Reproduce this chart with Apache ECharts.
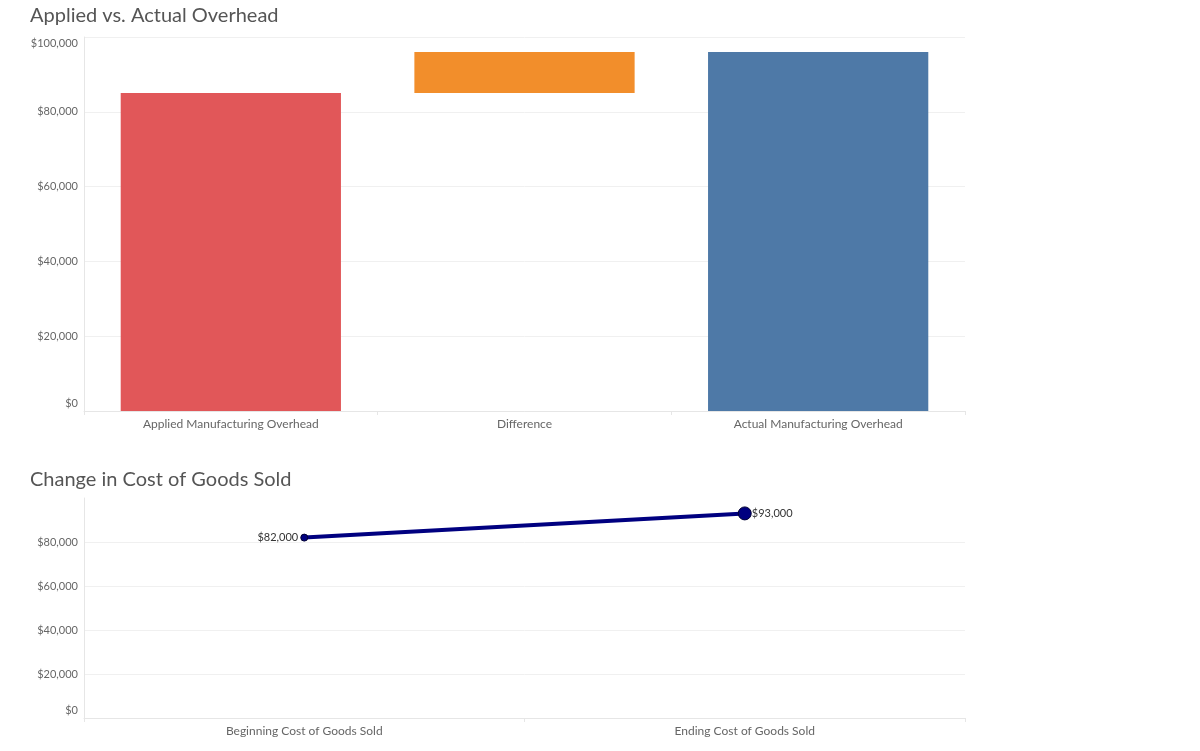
<!DOCTYPE html>
<html>
<head>
<meta charset="utf-8">
<script src="https://cdn.jsdelivr.net/npm/echarts@6/dist/echarts.min.js"></script>
<style>
html,body{margin:0;padding:0;background:#fff;}
#main{width:1200px;height:751px;}
</style>
</head>
<body>
<div id="main"></div>
<script>
// ---- data ----
const overheadCategories = ['Applied Manufacturing Overhead', 'Difference', 'Actual Manufacturing Overhead'];
const overheadBase = [0, 85000, 0];          // invisible waterfall offset
const overheadValues = [85000, 11000, 96000];
const overheadColors = ['#e15759', '#f28e2b', '#4e79a7'];
const overheadTicks = [0, 20000, 40000, 60000, 80000, 100000];

const cogsCategories = ['Beginning Cost of Goods Sold', 'Ending Cost of Goods Sold'];
const cogsValues = [82000, 93000];
const cogsTicks = [0, 20000, 40000, 60000, 80000];

const FONT = 'Lato, "Open Sans", sans-serif';
const money = v => '$' + Number(v).toLocaleString('en-US');

const chart = echarts.init(document.getElementById('main'), null, {renderer: 'canvas'});

const axisLineCol = '#e6e6e6';

function yFormatter(maxShown) {
  return v => {
    if (v === 0) return '{lo|' + money(v) + '}';
    if (v === maxShown) return '{hi|' + money(v) + '}';
    return money(v);
  };
}
const yRich = {
  lo: {fontFamily: FONT, fontSize: 11, color: '#666', padding: [0, 0, 16, 0]},
  hi: {fontFamily: FONT, fontSize: 11, color: '#666', padding: [12, 0, 0, 0]}
};

const option = {
  animation: false,
  backgroundColor: '#fff',
  title: [
    {text: 'Applied vs. Actual Overhead', left: 25, top: 1,
     textStyle: {fontFamily: FONT, fontSize: 20, fontWeight: 'normal', color: '#555'}},
    {text: 'Change in Cost of Goods Sold', left: 25, top: 465,
     textStyle: {fontFamily: FONT, fontSize: 20, fontWeight: 'normal', color: '#555'}}
  ],
  grid: [
    {left: 84, right: 235, top: 37, height: 374},
    {left: 84, right: 235, top: 498, height: 220}
  ],
  xAxis: [
    {type: 'category', gridIndex: 0, data: overheadCategories,
     axisLine: {show: true, lineStyle: {color: axisLineCol}},
     axisTick: {show: true, length: 4, lineStyle: {color: axisLineCol}},
     axisLabel: {fontFamily: FONT, fontSize: 12, color: '#666', margin: 7}},
    {type: 'category', gridIndex: 1, data: cogsCategories,
     axisLine: {show: true, lineStyle: {color: axisLineCol}},
     axisTick: {show: true, length: 4, lineStyle: {color: axisLineCol}},
     axisLabel: {fontFamily: FONT, fontSize: 12, color: '#666', margin: 7}}
  ],
  yAxis: [
    {type: 'value', gridIndex: 0, min: overheadTicks[0], max: overheadTicks[overheadTicks.length - 1], interval: 20000,
     axisLine: {show: true, lineStyle: {color: axisLineCol}},
     axisTick: {show: false},
     splitLine: {show: true, lineStyle: {color: '#f0f0f0', width: 1}},
     axisLabel: {fontFamily: FONT, fontSize: 11, color: '#666', margin: 6,
                 formatter: yFormatter(100000), rich: yRich}},
    {type: 'value', gridIndex: 1, min: cogsTicks[0], max: 100000, interval: 20000,
     axisLine: {show: true, lineStyle: {color: axisLineCol}},
     axisTick: {show: false},
     splitLine: {show: true, showMaxLine: false, lineStyle: {color: '#f0f0f0', width: 1}},
     axisLabel: {fontFamily: FONT, fontSize: 11, color: '#666', margin: 6, showMaxLabel: false,
                 formatter: yFormatter(-1), rich: yRich}}
  ],
  series: [
    {type: 'bar', xAxisIndex: 0, yAxisIndex: 0, stack: 'wf', barWidth: '75%',
     itemStyle: {color: 'transparent'}, silent: true,
     data: overheadBase},
    {type: 'bar', xAxisIndex: 0, yAxisIndex: 0, stack: 'wf', barWidth: '75%',
     data: overheadValues.map((v, i) => ({value: v, itemStyle: {color: overheadColors[i]}}))},
    {type: 'line', xAxisIndex: 1, yAxisIndex: 1, symbol: 'circle',
     lineStyle: {color: '#000080', width: 4},
     itemStyle: {color: '#000080', borderColor: '#000033', borderWidth: 1},
     data: cogsValues.map((v, i) => ({
       value: v,
       symbolSize: i === 0 ? 7 : 13,
       label: {show: true, position: i === 0 ? 'left' : 'right', distance: i === 0 ? 2 : 0,
               formatter: p => money(p.value),
               fontFamily: FONT, fontSize: 11, color: '#333'}
     }))}
  ]
};
chart.setOption(option);
</script>
</body>
</html>
